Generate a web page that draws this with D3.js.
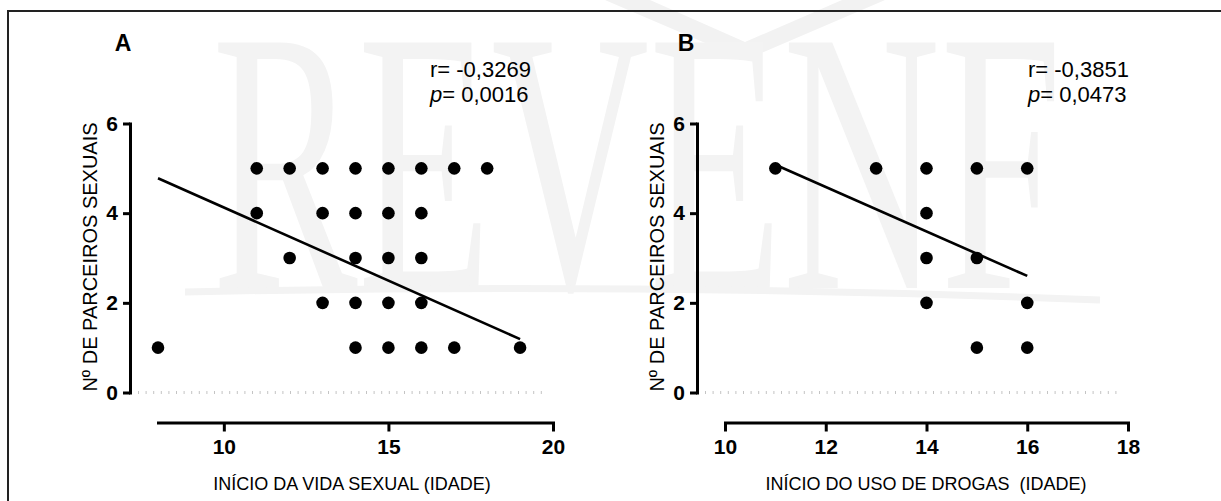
<!DOCTYPE html>
<html>
<head>
<meta charset="utf-8">
<script src="https://cdn.jsdelivr.net/npm/d3@7"></script>
<style>
  body { margin: 0; background: #fff; }
  svg { display: block; }
  .tick text { font-family: "Liberation Sans", Arial, sans-serif; font-weight: bold; font-size: 21px; fill: #000; }
  .axis path, .axis line { stroke: #000; stroke-width: 3; }
  .title { font-family: "Liberation Sans", Arial, sans-serif; fill: #000; }
</style>
</head>
<body>
<div id="chart"></div>
<script>
// Panel A: inicio da vida sexual vs n. de parceiros
var agesA = [11, 12, 13, 14, 15, 16, 17, 18,
             11, 13, 14, 15, 16,
             12, 14, 15, 16,
             13, 14, 15, 16,
             8, 14, 15, 16, 17, 19];
var partnersA = [5, 5, 5, 5, 5, 5, 5, 5,
                 4, 4, 4, 4, 4,
                 3, 3, 3, 3,
                 2, 2, 2, 2,
                 1, 1, 1, 1, 1, 1];
var fitA = [[8, 4.78], [19, 1.19]];
var statsA = ['r= -0,3269', '0,0016'];

// Panel B: inicio do uso de drogas vs n. de parceiros
var agesB = [11, 13, 14, 15, 16, 14, 14, 15, 14, 16, 15, 16];
var partnersB = [5, 5, 5, 5, 5, 4, 3, 3, 2, 2, 1, 1];
var fitB = [[11, 5.08], [16, 2.6]];
var statsB = ['r= -0,3851', '0,0473'];

var yTicks = [0, 2, 4, 6];
var xTicksA = [10, 15, 20];
var xTicksB = [10, 12, 14, 16, 18];

var width = 1221, height = 501;

var svg = d3.select('#chart').append('svg')
    .attr('width', width)
    .attr('height', height);

// watermark (journal logo)
var wm = svg.append('g').attr('class', 'watermark');
wm.append('path')
    .attr('d', 'M605,0 L745,60 L885,0 L842,0 L745,42 L650,0 Z')
    .attr('fill', '#f2f2f2');
wm.append('text')
    .attr('transform', 'translate(212,288) scale(1,1.25)')
    .attr('textLength', 850)
    .attr('lengthAdjust', 'spacingAndGlyphs')
    .style('font-family', '"Liberation Serif", "DejaVu Serif", serif')
    .style('font-size', '300px')
    .attr('fill', '#f3f3f3')
    .text('REVENF');
wm.append('path')
    .attr('d', 'M185,292 Q640,282 1100,300')
    .attr('fill', 'none')
    .attr('stroke', '#f3f3f3')
    .attr('stroke-width', 7);

// frame
svg.append('rect')
    .attr('x', 8).attr('y', 11)
    .attr('width', 1240).attr('height', 600)
    .attr('fill', 'none')
    .attr('stroke', '#222')
    .attr('stroke-width', 2);

var yScale = d3.scaleLinear().domain([0, 6]).range([392.5, 123.5]);

function panel(opts) {
    var xScale = d3.scaleLinear().domain(opts.xDomain).range(opts.xRange);
    var g = svg.append('g');

    // dotted zero line
    g.append('line')
        .attr('x1', opts.yAxisX + 8)
        .attr('x2', opts.xRange[1] - 6)
        .attr('y1', yScale(0))
        .attr('y2', yScale(0))
        .attr('stroke', '#c4c4c4')
        .attr('stroke-width', 3)
        .attr('stroke-dasharray', '1,6.6');

    var yAxis = d3.axisLeft(yScale)
        .tickValues(yTicks)
        .tickFormat(d3.format('d'))
        .tickSize(7)
        .tickSizeOuter(0)
        .tickPadding(5);
    g.append('g')
        .attr('class', 'axis y')
        .attr('transform', 'translate(' + opts.yAxisX + ',0)')
        .call(yAxis);

    var xAxis = d3.axisBottom(xScale)
        .tickValues(opts.xTicks)
        .tickFormat(d3.format('d'))
        .tickSize(9)
        .tickSizeOuter(0)
        .tickPadding(8);
    g.append('g')
        .attr('class', 'axis x')
        .attr('transform', 'translate(0,422.5)')
        .call(xAxis);

    g.selectAll('.axis .domain').attr('stroke-linecap', 'square');

    // fit line
    g.append('line')
        .attr('x1', xScale(opts.fit[0][0]))
        .attr('y1', yScale(opts.fit[0][1]))
        .attr('x2', xScale(opts.fit[1][0]))
        .attr('y2', yScale(opts.fit[1][1]))
        .attr('stroke', '#000')
        .attr('stroke-width', 2.6);

    // markers
    g.selectAll('circle')
        .data(opts.xs)
        .enter().append('circle')
        .attr('cx', function(d) { return xScale(d); })
        .attr('cy', function(d, i) { return yScale(opts.ys[i]); })
        .attr('r', 6.3)
        .attr('fill', '#000');

    // panel letter
    g.append('text')
        .attr('class', 'title')
        .attr('x', opts.letterX)
        .attr('y', 51)
        .attr('text-anchor', 'middle')
        .style('font-size', '23px')
        .style('font-weight', 'bold')
        .text(opts.letter);

    // stats
    g.append('text')
        .attr('class', 'title')
        .attr('x', opts.statsX)
        .attr('y', 77)
        .style('font-size', '22px')
        .text(opts.stats[0]);
    var p = g.append('text')
        .attr('class', 'title')
        .attr('x', opts.statsX)
        .attr('y', 102)
        .style('font-size', '22px');
    p.append('tspan').style('font-style', 'italic').text('p');
    p.append('tspan').text('= ' + opts.stats[1]);

    // y title
    g.append('text')
        .attr('class', 'title')
        .attr('transform', 'translate(' + (opts.yAxisX - 33) + ',' + 257 + ') rotate(-90)')
        .attr('text-anchor', 'middle')
        .style('font-size', '20px')
        .text('Nº DE PARCEIROS SEXUAIS');

    // x title
    g.append('text')
        .attr('class', 'title')
        .attr('x', opts.xTitleX)
        .attr('y', 490)
        .attr('text-anchor', 'middle')
        .style('font-size', '18px')
        .style('white-space', 'pre')
        .text(opts.xTitle);
}

panel({
    xs: agesA, ys: partnersA, fit: fitA, stats: statsA,
    xDomain: [8, 20], xRange: [158, 553], xTicks: xTicksA,
    yAxisX: 130, letter: 'A', letterX: 123, statsX: 430,
    xTitle: 'INÍCIO DA VIDA SEXUAL (IDADE)', xTitleX: 352
});

panel({
    xs: agesB, ys: partnersB, fit: fitB, stats: statsB,
    xDomain: [10, 18], xRange: [725, 1128], xTicks: xTicksB,
    yAxisX: 697, letter: 'B', letterX: 686, statsX: 1028,
    xTitle: 'INÍCIO DO USO DE DROGAS  (IDADE)', xTitleX: 926
});
</script>
</body>
</html>
